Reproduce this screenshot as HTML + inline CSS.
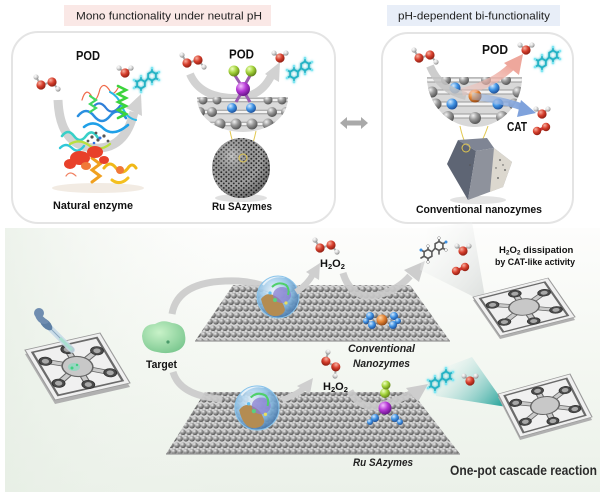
<!DOCTYPE html>
<html><head><meta charset="utf-8">
<style>
html,body{margin:0;padding:0;background:#fff;}
svg{display:block;}
text{font-family:"Liberation Sans",Arial,sans-serif;}
</style></head>
<body>
<svg width="605" height="496" viewBox="0 0 605 496" xmlns="http://www.w3.org/2000/svg">
<defs>
  <radialGradient id="gb" cx="0.35" cy="0.3" r="0.75"><stop offset="0" stop-color="#f2f2f2"/><stop offset="0.45" stop-color="#9a9a9a"/><stop offset="1" stop-color="#4e4e4e"/></radialGradient>
  <radialGradient id="ro" cx="0.35" cy="0.3" r="0.75"><stop offset="0" stop-color="#f8b0a0"/><stop offset="0.5" stop-color="#d63e2c"/><stop offset="1" stop-color="#8a1c10"/></radialGradient>
  <radialGradient id="wh" cx="0.35" cy="0.3" r="0.75"><stop offset="0" stop-color="#ffffff"/><stop offset="0.5" stop-color="#d6d6d6"/><stop offset="1" stop-color="#888"/></radialGradient>
  <radialGradient id="bn" cx="0.35" cy="0.3" r="0.75"><stop offset="0" stop-color="#d6ecff"/><stop offset="0.5" stop-color="#3f92e4"/><stop offset="1" stop-color="#1a4a92"/></radialGradient>
  <radialGradient id="orb" cx="0.35" cy="0.3" r="0.75"><stop offset="0" stop-color="#ffd8a8"/><stop offset="0.5" stop-color="#e48434"/><stop offset="1" stop-color="#8a4212"/></radialGradient>
  <radialGradient id="pu" cx="0.35" cy="0.3" r="0.75"><stop offset="0" stop-color="#f4c0ff"/><stop offset="0.5" stop-color="#b436d4"/><stop offset="1" stop-color="#621284"/></radialGradient>
  <radialGradient id="gn" cx="0.35" cy="0.3" r="0.75"><stop offset="0" stop-color="#f0ffc0"/><stop offset="0.5" stop-color="#a2d23a"/><stop offset="1" stop-color="#5c7c14"/></radialGradient>
  <radialGradient id="glob" cx="0.4" cy="0.35" r="0.7"><stop offset="0" stop-color="#eef8ff"/><stop offset="0.55" stop-color="#8cc0e6"/><stop offset="1" stop-color="#3e70a6"/></radialGradient>
  <radialGradient id="tg" cx="0.4" cy="0.35" r="0.7"><stop offset="0" stop-color="#c8f2c8"/><stop offset="1" stop-color="#7cc890"/></radialGradient>
  <radialGradient id="sph" cx="0.35" cy="0.3" r="0.8"><stop offset="0" stop-color="#fff" stop-opacity="0.4"/><stop offset="0.6" stop-color="#000" stop-opacity="0"/><stop offset="1" stop-color="#000" stop-opacity="0.4"/></radialGradient>
  <linearGradient id="bgG" x1="0" y1="0" x2="0" y2="1"><stop offset="0" stop-color="#fdfdfc"/><stop offset="0.45" stop-color="#f5f8f3"/><stop offset="1" stop-color="#ebf1e9"/></linearGradient>
  <linearGradient id="bgL" x1="0" y1="0" x2="1" y2="0"><stop offset="0" stop-color="#e6eee4" stop-opacity="0.7"/><stop offset="0.35" stop-color="#f2f6f0" stop-opacity="0"/></linearGradient>
  <linearGradient id="beamW" x1="1" y1="1" x2="0" y2="0"><stop offset="0" stop-color="#cfd3d2" stop-opacity="0.9"/><stop offset="1" stop-color="#ffffff" stop-opacity="0.2"/></linearGradient>
  <linearGradient id="beamT" x1="1" y1="0.8" x2="0" y2="0.2"><stop offset="0" stop-color="#2aa59c" stop-opacity="0.95"/><stop offset="1" stop-color="#ffffff" stop-opacity="0.1"/></linearGradient>
  <linearGradient id="pinkA" x1="0" y1="1" x2="1" y2="0"><stop offset="0" stop-color="#f2c4bc" stop-opacity="0.4"/><stop offset="1" stop-color="#eea79c"/></linearGradient>
  <linearGradient id="blueA" x1="0" y1="0" x2="1" y2="0"><stop offset="0" stop-color="#9ab8e4" stop-opacity="0.4"/><stop offset="1" stop-color="#7fa2dc"/></linearGradient>
  <filter id="glow" x="-30%" y="-30%" width="160%" height="160%"><feGaussianBlur stdDeviation="1.2" result="b"/><feMerge><feMergeNode in="b"/><feMergeNode in="SourceGraphic"/></feMerge></filter>
  <pattern id="gp" width="12" height="13" patternUnits="userSpaceOnUse">
    <rect width="12" height="13" fill="#d6d6d6"/>
    <path d="M0,3.25 H12 M0,9.75 H12" stroke="#eeeeee" stroke-width="1.6"/>
    <path d="M3,3.25 L0,9.75 M3,3.25 L6,9.75 M9,3.25 L6,9.75 M9,3.25 L12,9.75" stroke="#bcbcbc" stroke-width="1"/>
    <circle cx="3" cy="3.25" r="2.9" fill="url(#gb)"/>
    <circle cx="9" cy="3.25" r="2.9" fill="url(#gb)"/>
    <circle cx="0" cy="9.75" r="2.9" fill="url(#gb)"/>
    <circle cx="6" cy="9.75" r="2.9" fill="url(#gb)"/>
    <circle cx="12" cy="9.75" r="2.9" fill="url(#gb)"/>
  </pattern>
  <pattern id="pore" width="5" height="4.5" patternUnits="userSpaceOnUse">
    <rect width="5" height="4.5" fill="#a2a2a2"/>
    <circle cx="1.3" cy="1.2" r="0.95" fill="#262626"/>
    <circle cx="3.8" cy="3.4" r="0.95" fill="#2e2e2e"/>
  </pattern>
  <g id="h2o2">
    <path d="M0,0 L5,8 L16,5 L22,12" stroke="#aaa" stroke-width="2" fill="none"/>
    <circle cx="0" cy="0" r="2.6" fill="url(#wh)"/>
    <circle cx="5" cy="8" r="4.6" fill="url(#ro)"/>
    <circle cx="16" cy="5" r="4.6" fill="url(#ro)"/>
    <circle cx="22" cy="12" r="2.6" fill="url(#wh)"/>
  </g>
  <g id="h2o">
    <path d="M-6,-5 L0,0 L6,-5" stroke="#aaa" stroke-width="2" fill="none"/>
    <circle cx="-6" cy="-5" r="2.6" fill="url(#wh)"/>
    <circle cx="6" cy="-5" r="2.6" fill="url(#wh)"/>
    <circle cx="0" cy="0" r="4.6" fill="url(#ro)"/>
  </g>
  <g id="o2">
    <path d="M0,0 L9,-4" stroke="#c33" stroke-width="3"/>
    <circle cx="0" cy="0" r="4.2" fill="url(#ro)"/>
    <circle cx="9" cy="-4" r="4.2" fill="url(#ro)"/>
  </g>
  <g id="tmbc" filter="url(#glow)" stroke="#22b2c4" stroke-width="1.7" fill="none" stroke-linecap="round">
    <polygon points="8,12.5 11.9,14.75 11.9,19.25 8,21.5 4.1,19.25 4.1,14.75"/>
    <polygon points="19,4.5 22.9,6.75 22.9,11.25 19,13.5 15.1,11.25 15.1,6.75"/>
    <path d="M11.9,14.75 L15.1,11.25 M8,21.5 L8,25 M4.1,14.75 L1,13 M4.1,19.25 L1,21 M19,4.5 L19,1 M22.9,6.75 L26,5 M22.9,11.25 L26,13 M8,12.5 L8,9 M19,13.5 L19,17"/>
    <g stroke="none" fill="#7fe6f2"><circle cx="8" cy="25" r="1.3"/><circle cx="1" cy="13" r="1.3"/><circle cx="1" cy="21" r="1.3"/><circle cx="19" cy="1" r="1.3"/><circle cx="26" cy="5" r="1.3"/><circle cx="26" cy="13" r="1.3"/><circle cx="8" cy="9" r="1.3"/><circle cx="19" cy="17" r="1.3"/></g>
  </g>
  <g id="tmbg" stroke="#5a5a5a" stroke-width="1.6" fill="none" stroke-linecap="round">
    <polygon points="8,12.5 11.9,14.75 11.9,19.25 8,21.5 4.1,19.25 4.1,14.75"/>
    <polygon points="19,4.5 22.9,6.75 22.9,11.25 19,13.5 15.1,11.25 15.1,6.75"/>
    <path d="M11.9,14.75 L15.1,11.25 M8,21.5 L8,25 M4.1,14.75 L1,13 M4.1,19.25 L1,21 M19,4.5 L19,1 M22.9,6.75 L26,5 M22.9,11.25 L26,13 M8,12.5 L8,9 M19,13.5 L19,17"/>
    <g stroke="#888" stroke-width="0.5" fill="#fff"><circle cx="8" cy="25" r="1.4"/><circle cx="19" cy="1" r="1.4"/><circle cx="26" cy="13" r="1.4"/><circle cx="8" cy="9" r="1.4"/></g>
    <g stroke="none" fill="#3a8ee0"><circle cx="1" cy="13" r="1.5"/><circle cx="26" cy="5" r="1.5"/></g>
  </g>
  <g id="chip">
    <rect x="0" y="0" width="100" height="100" fill="#f0f0f0" stroke="#9a9a9a" stroke-width="1.5"/>
    <rect x="7" y="7" width="86" height="86" fill="none" stroke="#6a6a6a" stroke-width="3"/>
    <g stroke="#666" stroke-width="9" stroke-linecap="round">
      <path d="M50,50 L50,16 M50,50 L84,30 M50,50 L84,74 M50,50 L50,86 M50,50 L16,72 M50,50 L16,28"/>
    </g>
    <g stroke="#cacaca" stroke-width="6" stroke-linecap="round">
      <path d="M50,50 L50,16 M50,50 L84,30 M50,50 L84,74 M50,50 L50,86 M50,50 L16,72 M50,50 L16,28"/>
    </g>
    <circle cx="50" cy="50" r="19" fill="#c8c8c8" stroke="#666" stroke-width="2"/>
    <g fill="#4a4a4a" stroke="#2a2a2a" stroke-width="1">
      <circle cx="50" cy="16" r="8"/><circle cx="84" cy="30" r="8"/><circle cx="84" cy="74" r="8"/><circle cx="50" cy="86" r="8"/><circle cx="16" cy="72" r="8"/><circle cx="16" cy="28" r="8"/>
    </g>
    <g fill="#a8a8a8">
      <circle cx="50" cy="16" r="4.5"/><circle cx="84" cy="30" r="4.5"/><circle cx="84" cy="74" r="4.5"/><circle cx="50" cy="86" r="4.5"/><circle cx="16" cy="72" r="4.5"/><circle cx="16" cy="28" r="4.5"/>
    </g>
  </g>
  <g id="globe">
    <circle r="21" fill="url(#glob)" opacity="0.9"/>
    <path d="M-17,2 q6,-8 14,-3 q8,4 10,14 q-2,6 -10,6 q-10,0 -14,-17 z" fill="#b48c52"/>
    <ellipse cx="4" cy="-2" rx="9" ry="8" fill="#8a7ed0" opacity="0.75"/>
    <path d="M-6,-10 q6,-6 14,-2 q4,4 2,10" stroke="#4fd06a" stroke-width="2" fill="none"/>
    <circle cx="-3" cy="3" r="2" fill="#5ad080"/><circle cx="8" cy="6" r="1.6" fill="#e8e060"/><circle cx="-8" cy="-4" r="1.6" fill="#60c0f0"/>
    <path d="M-15,-12 a20,20 0 0 1 22,-8" stroke="#fff" stroke-width="2" opacity="0.7" fill="none"/>
    <circle r="21" fill="none" stroke="#8ac4ea" stroke-width="1"/>
  </g>
</defs>

<rect width="605" height="496" fill="#fff"/>

<!-- ===== Bottom background ===== -->
<rect x="5" y="228" width="595" height="264" fill="url(#bgG)"/>
<rect x="5" y="228" width="595" height="264" fill="url(#bgL)"/>

<!-- ===== Top labels ===== -->
<rect x="64" y="5" width="207" height="21" fill="#fae8e6"/>
<text x="76" y="19.5" font-size="11" textLength="186" lengthAdjust="spacingAndGlyphs" fill="#222">Mono functionality under neutral pH</text>
<rect x="387" y="5" width="173" height="21" fill="#e8eef8"/>
<text x="398" y="19.5" font-size="11" textLength="152" lengthAdjust="spacingAndGlyphs" fill="#222">pH-dependent bi-functionality</text>

<!-- ===== Top panels ===== -->
<rect x="12" y="32" width="323" height="191" rx="26" fill="#fff" stroke="#e4e4e4" stroke-width="2"/>
<rect x="382" y="33" width="191" height="190" rx="26" fill="#fff" stroke="#e4e4e4" stroke-width="2"/>

<!-- double arrow -->
<path d="M340,123 L347,117 L347,120.5 L361,120.5 L361,117 L368,123 L361,129 L361,125.5 L347,125.5 L347,129 Z" fill="#a9a9a9"/>

<!-- ---- Natural enzyme ---- -->
<ellipse cx="98" cy="188" rx="46" ry="5" fill="#efe6dc" opacity="0.8"/>
<path d="M58,100 Q60,150 100,148 Q126,146 134,112" stroke="#cdcdcd" stroke-width="9" fill="none" opacity="0.9"/>
<polygon points="141,94 142,116 126,108" fill="#d2d2d2"/>
<g fill="none" stroke-linecap="round">
  <path d="M82,100 q4,-14 10,-3 q4,8 8,-8 q4,-8 10,2 q3,6 8,-3" stroke="#f06a4a" stroke-width="1.2"/>
  <path d="M78,116 q8,-10 16,0 q8,10 16,0 q8,-10 16,2" stroke="#2a8fe0" stroke-width="2.6"/>
  <path d="M84,127 q10,-8 20,2 q10,8 24,-4" stroke="#1fa0e8" stroke-width="2.6"/>
  <path d="M94,106 q6,-6 12,2 q6,8 14,-2" stroke="#2e7ed8" stroke-width="2.2"/>
  <path d="M110,92 q8,4 12,14 q4,12 14,14" stroke="#28b8e8" stroke-width="2"/>
  <path d="M118,86 l8,4 l-8,4 l8,4 l-8,4 l8,4 l-8,4 l8,4 l-8,4" stroke="#3cd43c" stroke-width="2.6"/>
  <path d="M90,96 l6,4 l-6,4 l6,4 l-6,4" stroke="#40d860" stroke-width="2.2"/>
  <path d="M62,136 q6,-8 12,0 q6,8 12,0 q6,-8 12,2" stroke="#38d0c8" stroke-width="2.6"/>
  <path d="M60,148 q6,-6 12,0 q6,6 12,-2" stroke="#30c8d8" stroke-width="2.4"/>
  <path d="M70,144 q10,-6 20,2 q10,6 20,-2" stroke="#b8e040" stroke-width="2.4"/>
  <path d="M92,158 l8,6 l-8,6 l8,6 l-8,6" stroke="#f0a020" stroke-width="3"/>
  <path d="M104,168 q6,-8 12,0 q6,8 12,0 q4,-6 8,0" stroke="#f0b818" stroke-width="3"/>
  <path d="M112,180 q8,6 16,-2" stroke="#f4c020" stroke-width="3"/>
  <path d="M66,176 q4,-6 10,0" stroke="#f08060" stroke-width="1.2"/>
</g>
<g fill="#e8402a">
  <ellipse cx="80" cy="158" rx="10" ry="7"/><ellipse cx="95" cy="152" rx="8" ry="6"/><ellipse cx="70" cy="164" rx="6" ry="5"/><ellipse cx="104" cy="160" rx="5" ry="4"/>
</g>
<g fill="#f07838"><ellipse cx="86" cy="166" rx="5" ry="4"/><ellipse cx="120" cy="170" rx="4" ry="4"/></g>
<g fill="#555"><circle cx="92" cy="137" r="1.6"/><circle cx="98" cy="140" r="1.6"/><circle cx="104" cy="136" r="1.6"/><circle cx="96" cy="133" r="1.4"/><circle cx="108" cy="141" r="1.4"/><circle cx="88" cy="141" r="1.4"/></g>
<g fill="#3070e0"><circle cx="100" cy="138" r="1.5"/><circle cx="94" cy="143" r="1.3"/></g>
<use href="#h2o2" transform="translate(36,77)"/>
<use href="#h2o" transform="translate(125,73)"/>
<use href="#tmbc" transform="translate(133,67)"/>
<text x="76" y="60" font-size="13" font-weight="bold" textLength="24" lengthAdjust="spacingAndGlyphs" fill="#111">POD</text>
<text x="53" y="209" font-size="11" font-weight="bold" textLength="80" lengthAdjust="spacingAndGlyphs" fill="#111">Natural enzyme</text>

<!-- ---- Ru SAzymes (top) ---- -->
<path d="M190,74 Q200,98 236,98 Q262,97 272,74" stroke="#cdcdcd" stroke-width="8" fill="none" opacity="0.9"/>
<polygon points="280,62 279,82 265,74" fill="#d2d2d2"/>
<clipPath id="lensA"><path d="M197,97 L288,97 C288,120 265,132 243,132 C220,132 197,120 197,97 Z"/></clipPath>
<g clip-path="url(#lensA)">
  <rect x="195" y="95" width="95" height="40" fill="#dadada"/>
  <g stroke="#9a9a9a" stroke-width="4.5"><path d="M195,100 H290 M195,112 H290 M195,124 H290"/></g>
  <g stroke="#f2f2f2" stroke-width="2.5"><path d="M195,100 H290 M195,112 H290 M195,124 H290"/></g>
  <g fill="url(#gb)">
    <circle cx="203" cy="100" r="4.5"/><circle cx="217" cy="100" r="4.5"/><circle cx="268" cy="100" r="4.5"/><circle cx="282" cy="100" r="4.5"/>
    <circle cx="212" cy="112" r="5"/><circle cx="272" cy="112" r="5"/><circle cx="286" cy="112" r="5"/><circle cx="200" cy="112" r="5"/>
    <circle cx="220" cy="124" r="5.5"/><circle cx="236" cy="124" r="5.5"/><circle cx="252" cy="124" r="5.5"/><circle cx="268" cy="124" r="5.5"/>
  </g>
</g>
<path d="M230,131 Q234,150 240,158 M256,131 Q252,150 246,158" stroke="#e2c850" stroke-width="1" fill="none"/>
<ellipse cx="241" cy="198" rx="26" ry="4" fill="#d8d8d8" opacity="0.8"/>
<ellipse cx="241" cy="168" rx="29" ry="30" fill="url(#pore)"/>
<ellipse cx="241" cy="168" rx="29" ry="30" fill="url(#sph)"/>
<circle cx="243" cy="158" r="4" fill="none" stroke="#e2c850" stroke-width="1"/>
<path d="M236,102 L243,90 L250,102" stroke="#9a5ab0" stroke-width="3" fill="none"/>
<path d="M234,74 L243,88 L251,74" stroke="#9a5ab0" stroke-width="3" fill="none"/>
<circle cx="232" cy="108" r="5" fill="url(#bn)"/>
<circle cx="251" cy="108" r="5" fill="url(#bn)"/>
<circle cx="234" cy="71" r="5.5" fill="url(#gn)"/>
<circle cx="251" cy="71" r="5.5" fill="url(#gn)"/>
<circle cx="243" cy="89" r="7" fill="url(#pu)"/>
<use href="#h2o2" transform="translate(182,55)"/>
<use href="#h2o" transform="translate(280,58)"/>
<use href="#tmbc" transform="translate(286,57)"/>
<text x="229" y="58.5" font-size="13" font-weight="bold" textLength="25" lengthAdjust="spacingAndGlyphs" fill="#111">POD</text>
<text x="212" y="210" font-size="11" font-weight="bold" textLength="60" lengthAdjust="spacingAndGlyphs" fill="#111">Ru SAzymes</text>

<!-- ---- Conventional nanozymes (top right) ---- -->
<clipPath id="lensB"><path d="M427,77 L522,77 C522,106 500,127 475,127 C450,127 427,106 427,77 Z"/></clipPath>
<g clip-path="url(#lensB)">
  <rect x="425" y="75" width="100" height="55" fill="#d8d8d8"/>
  <g stroke="#9a9a9a" stroke-width="5"><path d="M425,80 H525 M425,92 H525 M425,104 H525 M425,116 H525"/></g>
  <g stroke="#f2f2f2" stroke-width="3"><path d="M425,80 H525 M425,92 H525 M425,104 H525 M425,116 H525"/></g>
  <g fill="url(#gb)">
    <circle cx="446" cy="80" r="5"/><circle cx="464" cy="80" r="5"/><circle cx="486" cy="80" r="5"/><circle cx="506" cy="80" r="5"/>
    <circle cx="432" cy="92" r="5.5"/><circle cx="518" cy="92" r="5.5"/>
    <circle cx="436" cy="104" r="5.5"/><circle cx="514" cy="104" r="5.5"/>
    <circle cx="448" cy="117" r="6"/><circle cx="475" cy="118" r="6"/><circle cx="502" cy="117" r="6"/>
  </g>
  <g fill="url(#bn)">
    <circle cx="455" cy="88" r="5.5"/><circle cx="494" cy="88" r="5.5"/><circle cx="452" cy="104" r="5.5"/><circle cx="498" cy="104" r="5.5"/>
  </g>
  <circle cx="475" cy="96" r="6.5" fill="url(#orb)"/>
</g>
<path d="M430,66 Q440,90 466,96" stroke="#c4c4c4" stroke-width="8" fill="none" opacity="0.85"/>
<path d="M462,92 Q494,84 512,66" stroke="url(#pinkA)" stroke-width="8" fill="none"/>
<polygon points="523,54 519,75 504,63" fill="#eea79c"/>
<path d="M472,96 Q502,100 522,107" stroke="url(#blueA)" stroke-width="7" fill="none"/>
<polygon points="536,113 517,117 521,100" fill="#7fa2dc"/>
<path d="M460,126 Q462,136 466,145 M488,126 Q484,138 478,148" stroke="#e2c850" stroke-width="1" fill="none"/>
<ellipse cx="478" cy="200" rx="28" ry="4" fill="#dcdcdc" opacity="0.8"/>
<polygon points="447,164 458,140 476,151 468,200" fill="#5e6574"/>
<polygon points="458,140 487,138 494,148 476,151" fill="#7f8594"/>
<polygon points="476,151 494,148 512,162 503,187 468,200" fill="#8e929c"/>
<polygon points="494,148 512,162 503,187 490,192" fill="#dcd8cf"/>
<g fill="#555"><circle cx="500" cy="160" r="0.9"/><circle cx="505" cy="170" r="0.9"/><circle cx="498" cy="178" r="0.9"/><circle cx="503" cy="165" r="0.7"/><circle cx="496" cy="168" r="0.7"/><circle cx="462" cy="150" r="0.8"/><circle cx="470" cy="165" r="0.8"/></g>
<circle cx="466" cy="148" r="4" fill="none" stroke="#e2c850" stroke-width="1"/>
<use href="#h2o2" transform="translate(414,50)"/>
<use href="#h2o" transform="translate(526,50)"/>
<use href="#tmbc" transform="translate(534,46)"/>
<use href="#h2o" transform="translate(542,114)"/>
<use href="#o2" transform="translate(537,131)"/>
<text x="482" y="54" font-size="13" font-weight="bold" textLength="26" lengthAdjust="spacingAndGlyphs" fill="#111">POD</text>
<text x="507" y="131" font-size="12.5" font-weight="bold" textLength="20" lengthAdjust="spacingAndGlyphs" fill="#111">CAT</text>
<text x="416" y="213" font-size="11" font-weight="bold" textLength="126" lengthAdjust="spacingAndGlyphs" fill="#111">Conventional nanozymes</text>

<!-- ===== Bottom section ===== -->
<!-- left chip -->
<g transform="translate(0,4)"><polygon points="25,350 100,333 130,383 55,400" fill="#b0b0b0"/></g>
<g transform="matrix(0.75,-0.17,0.30,0.50,25,350)"><use href="#chip"/></g>
<ellipse cx="74" cy="367" rx="6" ry="4" fill="#8fd8c0" opacity="0.8"/>
<circle cx="72" cy="368" r="1.5" fill="#40d080"/><circle cx="77" cy="365" r="1.2" fill="#40d080"/>
<!-- dropper -->
<path d="M48,326 L72,350" stroke="#c8dbe8" stroke-width="6" stroke-linecap="round" opacity="0.9"/>
<path d="M48,326 L72,350" stroke="#8aa8c0" stroke-width="1" fill="none"/>
<path d="M60,338 L72,350" stroke="#a8e0d0" stroke-width="3"/>
<ellipse cx="46" cy="324" rx="8" ry="4" transform="rotate(45 46 324)" fill="#5d7fa4"/>
<path d="M36,310 q-3,6 3,12 q6,4 10,0 z" fill="#6f8db0"/>
<circle cx="39" cy="313" r="5" fill="#6f8db0"/>

<!-- target -->
<path d="M142,336 q1,-12 13,-12 q8,-5 17,-1 q12,1 13,12 q2,10 -6,15 q-10,5 -22,2 q-14,-2 -15,-16 z" fill="url(#tg)"/>
<circle cx="168" cy="342" r="1.6" fill="#4a9a6a"/>
<text x="146" y="368" font-size="11" font-weight="bold" textLength="31" lengthAdjust="spacingAndGlyphs" fill="#111">Target</text>

<!-- graphene sheets -->
<polygon points="233,285 410,285 450,341 195,341" fill="url(#gp)"/>
<path d="M195,341 H450" stroke="#999" stroke-width="1.2"/>
<polygon points="205,392 412,392 460,454 166,454" fill="url(#gp)"/>
<path d="M166,454 H460" stroke="#999" stroke-width="1.2"/>

<!-- arcs -->
<path d="M172,314 Q178,279 238,281 Q266,283 282,296" stroke="#cacaca" stroke-width="7" fill="none" opacity="0.9"/>
<path d="M173,372 Q180,396 222,399" stroke="#cacaca" stroke-width="7" fill="none" opacity="0.9"/>

<use href="#globe" transform="translate(278,297)"/>
<use href="#globe" transform="translate(257,408) scale(1.05)"/>

<path d="M296,292 Q308,284 313,274" stroke="#cfcfcf" stroke-width="6" fill="none"/>
<polygon points="320,263 319,280 306,272" fill="#cfcfcf"/>
<path d="M282,400 Q298,394 304,388" stroke="#cfcfcf" stroke-width="6" fill="none"/>
<polygon points="313,378 310,394 297,386" fill="#cfcfcf"/>

<path d="M343,273 Q350,296 370,296 Q394,294 410,276" stroke="#cacaca" stroke-width="7" fill="none" opacity="0.9"/>
<polygon points="425,261 419,282 404,270" fill="#cdcdcd"/>
<path d="M350,391 Q360,409 378,406 Q398,401 412,393" stroke="#cacaca" stroke-width="7" fill="none" opacity="0.9"/>
<polygon points="428,384 418,402 406,388" fill="#cdcdcd"/>

<!-- conventional nanozyme site -->
<circle cx="370" cy="316" r="4" fill="url(#bn)"/><circle cx="394" cy="316" r="4" fill="url(#bn)"/>
<circle cx="372" cy="325" r="4" fill="url(#bn)"/><circle cx="393" cy="325" r="4" fill="url(#bn)"/>
<circle cx="366" cy="321" r="3" fill="url(#bn)"/><circle cx="398" cy="321" r="3" fill="url(#bn)"/>
<circle cx="382" cy="320" r="5.5" fill="url(#orb)"/>

<!-- Ru site -->
<circle cx="375" cy="418" r="4" fill="url(#bn)"/><circle cx="395" cy="418" r="4" fill="url(#bn)"/>
<circle cx="370" cy="422" r="3" fill="url(#bn)"/><circle cx="400" cy="422" r="3" fill="url(#bn)"/>
<circle cx="385" cy="408" r="6.5" fill="url(#pu)"/>
<circle cx="385" cy="393" r="5" fill="url(#gn)"/>
<circle cx="386" cy="385" r="4.5" fill="url(#gn)"/>

<!-- beams -->
<polygon points="486,303 420,270 428,228 472,222" fill="url(#beamW)" opacity="0.8"/>
<polygon points="507,407 436,396 432,372 472,357" fill="url(#beamT)"/>

<!-- right chips -->
<g transform="translate(0,3)"><polygon points="473,297 548,278 575,317 500,336" fill="#b0b0b0"/></g>
<g transform="matrix(0.75,-0.19,0.27,0.39,473,297)"><use href="#chip"/></g>
<g transform="translate(0,3)"><polygon points="498,394 570,374 592,417 520,437" fill="#b0b0b0"/></g>
<g transform="matrix(0.72,-0.20,0.22,0.43,498,394)"><use href="#chip"/></g>

<!-- molecules bottom -->
<use href="#h2o2" transform="translate(315,240)"/>
<use href="#h2o2" transform="translate(328,352) rotate(45)"/>
<use href="#tmbg" transform="translate(420,237)"/>
<use href="#h2o" transform="translate(463,251)"/>
<use href="#o2" transform="translate(456,271)"/>
<use href="#tmbc" transform="translate(427,367)"/>
<use href="#h2o" transform="translate(470,381)"/>

<!-- bottom texts -->
<text x="320" y="267" font-size="11" font-weight="bold" fill="#111">H<tspan font-size="7.5" dy="2">2</tspan><tspan dy="-2">O</tspan><tspan font-size="7.5" dy="2">2</tspan></text>
<text x="323" y="390" font-size="11" font-weight="bold" fill="#111">H<tspan font-size="7.5" dy="2">2</tspan><tspan dy="-2">O</tspan><tspan font-size="7.5" dy="2">2</tspan></text>
<text x="348" y="352" font-size="11" font-weight="bold" font-style="italic" textLength="67" lengthAdjust="spacingAndGlyphs" fill="#222">Conventional</text>
<text x="353" y="367" font-size="11" font-weight="bold" font-style="italic" textLength="57" lengthAdjust="spacingAndGlyphs" fill="#222">Nanozymes</text>
<text x="353" y="466" font-size="11" font-weight="bold" font-style="italic" textLength="60" lengthAdjust="spacingAndGlyphs" fill="#222">Ru SAzymes</text>
<text x="499" y="253" font-size="9.5" font-weight="bold" fill="#111">H<tspan font-size="6.5" dy="1.5">2</tspan><tspan dy="-1.5">O</tspan><tspan font-size="6.5" dy="1.5">2</tspan><tspan dy="-1.5"> dissipation</tspan></text>
<text x="495" y="265" font-size="9.5" font-weight="bold" textLength="80" lengthAdjust="spacingAndGlyphs" fill="#111">by CAT-like activity</text>
<text x="450" y="475" font-size="13.5" textLength="147" lengthAdjust="spacingAndGlyphs" fill="#1a1a1a" font-weight="bold" opacity="0.92">One-pot cascade reaction</text>
</svg>
</body></html>
